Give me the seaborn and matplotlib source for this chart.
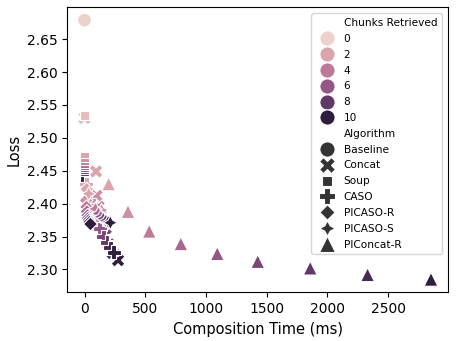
import matplotlib
matplotlib.use("Agg")
import matplotlib.pyplot as plt
import seaborn as sns
import pandas as pd

# ---- data ----
baseline_chunks = [0]
baseline_time = [0]
baseline_loss = [2.679]

concat_chunks = [1, 2, 3, 4, 5, 6, 7, 8, 9, 10]
concat_time = [0, 95, 100, 115, 132, 155, 175, 198, 232, 276]
concat_loss = [2.530, 2.449, 2.412, 2.395, 2.382, 2.372, 2.352, 2.338, 2.325, 2.314]

soup_chunks = [1, 2, 3, 4, 5, 6, 7, 8, 9, 10]
soup_time = [0, 0, 0, 0, 0, 0, 0, 0, 0, 0]
soup_loss = [2.534, 2.471, 2.462, 2.456, 2.451, 2.447, 2.443, 2.440, 2.437, 2.435]

caso_chunks = [2, 3, 4, 5, 6, 7, 8, 9, 10]
caso_time = [15, 40, 65, 95, 125, 155, 185, 212, 240]
caso_loss = [2.430, 2.405, 2.390, 2.376, 2.362, 2.350, 2.341, 2.333, 2.326]

picasor_chunks = [2, 3, 4, 5, 6, 7, 8, 9, 10]
picasor_time = [18, 12, 16, 20, 25, 30, 36, 42, 49]
picasor_loss = [2.422, 2.405, 2.395, 2.388, 2.382, 2.378, 2.375, 2.372, 2.369]

picasos_chunks = [2, 3, 4, 5, 6, 7, 8, 9, 10]
picasos_time = [35, 140, 90, 115, 135, 155, 175, 195, 213]
picasos_loss = [2.415, 2.390, 2.392, 2.385, 2.380, 2.377, 2.374, 2.372, 2.371]

piconcat_chunks = [2, 3, 4, 5, 6, 7, 8, 9, 10]
piconcat_time = [199, 358, 533, 793, 1093, 1426, 1858, 2330, 2852]
piconcat_loss = [2.430, 2.388, 2.358, 2.339, 2.324, 2.312, 2.302, 2.292, 2.285]

algorithms = ["Baseline", "Concat", "Soup", "CASO", "PICASO-R", "PICASO-S", "PIConcat-R"]

series = [
    (baseline_chunks, baseline_time, baseline_loss),
    (concat_chunks, concat_time, concat_loss),
    (soup_chunks, soup_time, soup_loss),
    (caso_chunks, caso_time, caso_loss),
    (picasor_chunks, picasor_time, picasor_loss),
    (picasos_chunks, picasos_time, picasos_loss),
    (piconcat_chunks, piconcat_time, piconcat_loss),
]

rows = []
for name, (ch, t, l) in zip(algorithms, series):
    for c, tt, ll in zip(ch, t, l):
        rows.append({"Algorithm": name, "Chunks Retrieved": c,
                     "Composition Time (ms)": tt, "Loss": ll})
df = pd.DataFrame(rows)

fig = plt.figure(figsize=(4.57, 3.41), dpi=100)
ax = fig.add_axes([0.147, 0.143, 0.834, 0.836])

sns.scatterplot(data=df, x="Composition Time (ms)", y="Loss",
                hue="Chunks Retrieved", style="Algorithm",
                style_order=algorithms, s=100, ax=ax)

ax.tick_params(labelsize=10)
ax.set_xlabel("Composition Time (ms)", fontsize=10.5)
ax.set_ylabel("Loss", fontsize=10.5)
ax.set_xticks([0, 500, 1000, 1500, 2000, 2500])

leg = ax.legend(loc="upper right", fontsize=7.6, labelspacing=0.55,
                borderpad=0.45, handletextpad=0.6, markerscale=1.1,
                borderaxespad=0.6)

fig.savefig("out.png", dpi=100)
